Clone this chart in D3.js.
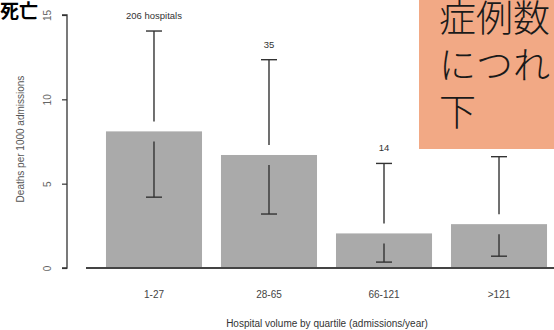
<!DOCTYPE html>
<html><head><meta charset="utf-8">
<script src="https://cdn.jsdelivr.net/npm/d3@7"></script>
<style>body{margin:0;background:#fff}svg{display:block}</style>
</head><body>
<script>
const categories = ["1-27", "28-65", "66-121", ">121"];
const deaths = [8.1, 6.7, 2.05, 2.6];
const upperCI = [14.05, 12.35, 6.2, 6.6];
const lowerCI = [4.2, 3.2, 0.35, 0.7];
const countLabels = ["206 hospitals", "35", "14", ""];
const yTicks = [0, 5, 10, 15];
const noteLines = ["症例数", "につれ", "下"];

const W = 554, H = 330;
const svg = d3.select("body").append("svg").attr("width", W).attr("height", H);

const x = d3.scaleBand().domain(categories).range([87, 566]).paddingInner(0.165).paddingOuter(0.165);
const y = d3.scaleLinear().domain([0, 15]).range([268, 15]);

// bars
svg.selectAll("rect.bar").data(categories).join("rect")
  .attr("class", "bar")
  .attr("x", d => x(d)).attr("width", x.bandwidth())
  .attr("y", (d, i) => y(deaths[i])).attr("height", (d, i) => y(0) - y(deaths[i]))
  .attr("fill", "#aaaaaa");

// baseline
svg.append("line").attr("x1", 86).attr("x2", W).attr("y1", y(0)).attr("y2", y(0))
  .attr("stroke", "#444").attr("stroke-width", 1.8);

// error bars
const cap = 8, gap = 10;
const eb = svg.append("g").attr("stroke", "#333").attr("stroke-width", 1.4);
categories.forEach((c, i) => {
  const cx = x(c) + x.bandwidth() / 2;
  eb.append("line").attr("x1", cx).attr("x2", cx).attr("y1", y(upperCI[i])).attr("y2", y(deaths[i]) - gap);
  eb.append("line").attr("x1", cx - cap).attr("x2", cx + cap).attr("y1", y(upperCI[i])).attr("y2", y(upperCI[i]));
  eb.append("line").attr("x1", cx).attr("x2", cx).attr("y1", y(deaths[i]) + gap).attr("y2", y(lowerCI[i]));
  eb.append("line").attr("x1", cx - cap).attr("x2", cx + cap).attr("y1", y(lowerCI[i])).attr("y2", y(lowerCI[i]));
  svg.append("text").attr("x", cx).attr("y", y(upperCI[i]) - 12)
    .attr("text-anchor", "middle").attr("font-family", "Liberation Sans, Arial, sans-serif")
    .attr("font-size", 9.5).attr("fill", "#333").text(countLabels[i]);
});

// y axis
const yAxis = d3.axisLeft(y).tickValues(yTicks).tickSize(5).tickPadding(13);
const ga = svg.append("g").attr("transform", "translate(67,0)").call(yAxis);
ga.select(".domain").attr("stroke", "#333").attr("stroke-width", 1.3).attr("d", `M-5,${y(15)}H0V${y(0)}H-5`);
ga.selectAll(".tick line").attr("stroke", "#333").attr("stroke-width", 1.2);
ga.selectAll(".tick text").attr("font-family", "Liberation Sans, Arial, sans-serif").attr("font-size", 10)
  .attr("fill", "#666").attr("text-anchor", "middle").attr("dy", null)
  .attr("transform", "translate(-20,0) rotate(-90)")
  .attr("x", 0).attr("y", 3.5);

svg.append("text").attr("transform", `translate(24,139) rotate(-90)`)
  .attr("text-anchor", "middle").attr("font-family", "Liberation Sans, Arial, sans-serif")
  .attr("font-size", 10).attr("fill", "#555").text("Deaths per 1000 admissions");

// x labels
const xAxis = d3.axisBottom(x).tickSize(0).tickPadding(0);
const gx = svg.append("g").attr("transform", "translate(0,291)").call(xAxis);
gx.select(".domain").remove();
gx.selectAll(".tick text").attr("font-family", "Liberation Sans, Arial, sans-serif").attr("font-size", 10).attr("fill", "#444");

svg.append("text").attr("x", 327).attr("y", 327).attr("text-anchor", "middle")
  .attr("font-family", "Liberation Sans, Arial, sans-serif").attr("font-size", 10).attr("fill", "#333")
  .text("Hospital volume by quartile (admissions/year)");

// annotation top-left
svg.append("text").attr("x", 0).attr("y", 18).attr("font-family", "Noto Sans CJK JP").attr("font-weight", 700)
  .attr("font-size", 19).attr("fill", "#000").text("死亡");

// orange box
svg.append("rect").attr("x", 419).attr("y", 0).attr("width", 140).attr("height", 149).attr("fill", "#f2a985");
const note = svg.append("text").attr("font-family", "Noto Sans CJK JP").attr("font-weight", 300)
  .attr("font-size", 37).attr("fill", "#1a1a1a");
noteLines.forEach((t, i) => {
  note.append("tspan").attr("x", 439).attr("y", 32 + i * 47).text(t);
});
</script>
</body></html>
